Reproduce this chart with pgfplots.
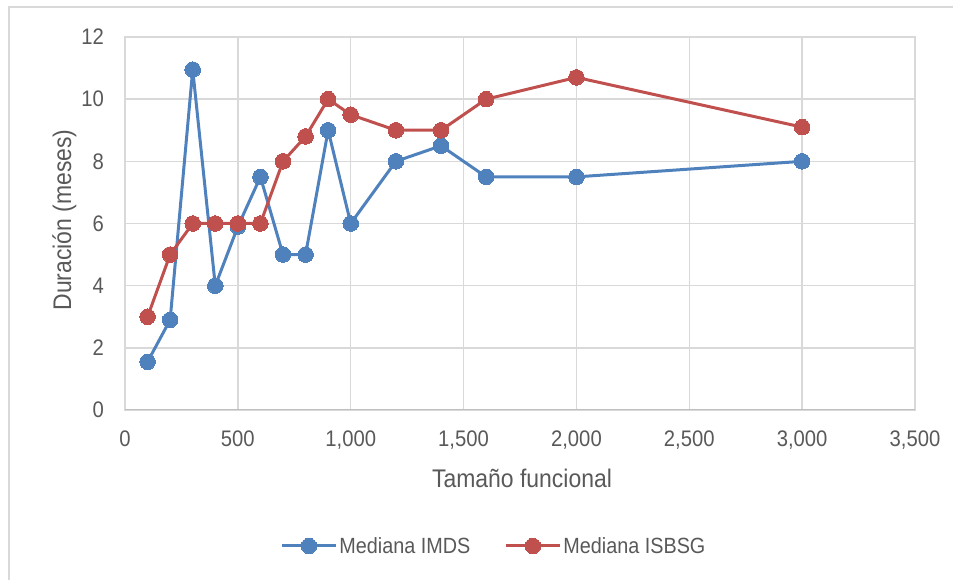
\documentclass[border=0pt]{standalone}
\usepackage{fontspec}
\setmainfont{Liberation Sans}[FakeStretch=0.9]
\usepackage{pgfplots}
\pgfplotsset{compat=1.18}

\definecolor{imds}{HTML}{4F81BD}
\definecolor{isbsg}{HTML}{C0504D}
\definecolor{txtgray}{HTML}{595959}
\definecolor{gridgray}{HTML}{D9D9D9}
\definecolor{axisgray}{HTML}{BFBFBF}

\begin{document}
\begin{tikzpicture}[x=1pt,y=1pt]
  \useasboundingbox (0,0) rectangle (953,580);
  % chart frame (only left and top visible)
  \draw[gridgray, line width=1.5pt] (9,0) -- (9,573) -- (953,573);

  \begin{axis}[
      at={(125pt,170pt)}, anchor=south west,
      scale only axis,
      width=790pt, height=373pt,
      xmin=0, xmax=3500, ymin=0, ymax=12,
      xtick={0,500,...,3500},
      ytick={0,2,...,12},
      scaled x ticks=false,
      /pgf/number format/1000 sep={,},
      /pgf/number format/assume math mode=true,
      major tick length=0pt,
      grid=major,
      major grid style={gridgray, line width=1.5pt},
      axis line style={gridgray, line width=1.5pt},
      ticklabel style={font=\fontsize{22.5}{26}\selectfont, text=txtgray, inner sep=0pt},
      xticklabel style={anchor=north, yshift=-21pt},
      yticklabel style={anchor=east, xshift=-21pt},
      legend columns=2,
      legend style={
        at={(0.467,-0.3646)}, anchor=center,
        draw=none, fill=none,
        font=\fontsize{22}{26}\selectfont, text=txtgray,
        nodes={inner sep=2pt},
        /tikz/every even column/.append style={column sep=32pt},
      },
      legend image code/.code={%
        \draw[mark repeat=2, mark phase=2] plot coordinates {(0pt,0pt) (27pt,0pt) (54pt,0pt)};},
    ]
    \addplot[axisgray, line width=1.5pt, forget plot] coordinates {(0,0) (3500,0)};

    \addplot[imds, line width=3pt, mark=*, mark size=7.8pt,
             mark options={solid, fill=imds, draw=imds, line width=0pt}]
      coordinates {
        (100,1.55) (200,2.9) (300,10.95) (400,4.0) (500,5.9) (600,7.5)
        (700,5.0) (800,5.0) (900,9.0) (1000,6.0) (1200,8.0) (1400,8.5)
        (1600,7.5) (2000,7.5) (3000,8.0)
      };
    \addlegendentry{Mediana IMDS}

    \addplot[isbsg, line width=3pt, mark=*, mark size=7.8pt,
             mark options={solid, fill=isbsg, draw=isbsg, line width=0pt}]
      coordinates {
        (100,3.0) (200,5.0) (300,6.0) (400,6.0) (500,6.0) (600,6.0)
        (700,8.0) (800,8.8) (900,10.0) (1000,9.5) (1200,9.0) (1400,9.0)
        (1600,10.0) (2000,10.7) (3000,9.1)
      };
    \addlegendentry{Mediana ISBSG}
  \end{axis}

  % axis titles
  \node[anchor=base, inner sep=0pt, text=txtgray, font=\fontsize{25.5}{30}\selectfont]
    at (522,92) {Tamaño funcional};
  \node[rotate=90, anchor=base, inner sep=0pt, text=txtgray, font=\fontsize{25.5}{30}\selectfont]
    at (71,360) {Duración (meses)};
\end{tikzpicture}
\end{document}
